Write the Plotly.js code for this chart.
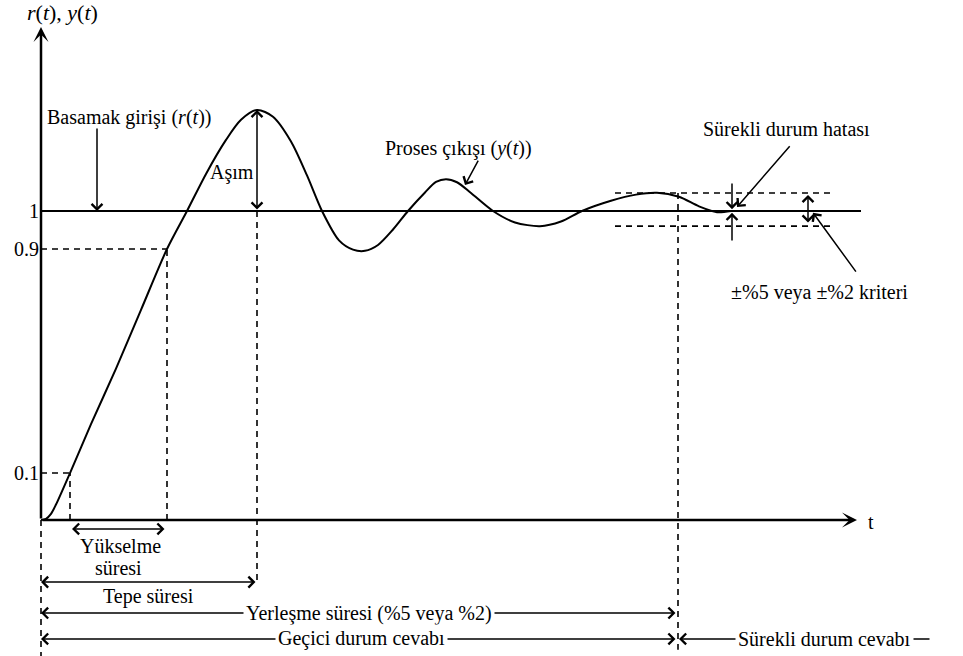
<!DOCTYPE html>
<html>
<head>
<meta charset="utf-8">
<script src="https://cdn.plot.ly/plotly-3.0.1.min.js"></script>
<style>html,body{margin:0;padding:0;background:#fff;}#chart{width:963px;height:656px;}</style>
</head>
<body>
<div id="chart"></div>
<script>
// Process output y(t) (time t, value y)
const tOut = [0, 0.05, 0.10, 0.15, 0.29, 0.50, 0.75, 1.00, 1.26, 1.46, 1.65, 1.85, 2.00, 2.16, 2.32, 2.50, 2.66, 2.81, 2.98, 3.12, 3.24, 3.37, 3.52, 3.67, 3.84, 3.95, 4.05, 4.16, 4.30, 4.52, 4.74, 4.99, 5.20, 5.41, 5.70, 5.95, 6.16, 6.38, 6.58, 6.76, 6.90];
const yOut = [0, 0.004, 0.02, 0.05, 0.152, 0.31, 0.49, 0.68, 0.877, 1.0, 1.12, 1.23, 1.295, 1.327, 1.305, 1.225, 1.115, 1.0, 0.905, 0.875, 0.871, 0.89, 0.94, 1.0, 1.06, 1.094, 1.103, 1.093, 1.058, 1.0, 0.963, 0.951, 0.966, 1.0, 1.033, 1.053, 1.059, 1.046, 1.015, 0.996, 1.0];
// Step input r(t)
const tRef = [0, 8.2];
const yRef = [1, 1];
// Y tick labels (schematic positions)
const yTickVals = [0.152, 0.877, 1];
const yTickText = ['0.1', '0.9', '1'];
// Key times and levels
const t10 = 0.29, t90 = 1.26, tPeak = 2.16, tSettle = 6.37;
const y10 = 0.152, y90 = 0.877, yPeak = 1.327;
const bandHi = 1.058, bandLo = 0.951, bandStart = 5.74, bandEnd = 7.92;
const tAxisEnd = 8.16, yAxisEnd = 1.5955;

const FONT = 'Liberation Serif, Times New Roman, serif';
const FS = 20;
const dashLine = {color: 'black', width: 1.6, dash: '6px,5px'};
function dline(x0, y0, x1, y1) {
  return {type: 'line', xref: 'x', yref: 'y', x0: x0, y0: y0, x1: x1, y1: y1, line: dashLine};
}
const shapes = [
  dline(0, y10, t10, y10),
  dline(0, y90, t90, y90),
  dline(t10, 0, t10, y10),
  dline(t90, 0, t90, y90),
  dline(tPeak, 1, tPeak, -0.204),
  dline(0, 0, 0, -0.44),
  dline(tSettle, bandHi, tSettle, -0.42),
  dline(bandStart, bandHi, bandEnd, bandHi),
  dline(bandStart, bandLo, bandEnd, bandLo)
];

function arrow(xh, yh, xt, yt, opts) {
  return Object.assign({
    x: xh, y: yh, ax: xt, ay: yt, xref: 'x', yref: 'y', axref: 'x', ayref: 'y',
    text: '', showarrow: true, arrowhead: 4, arrowsize: 1.4, arrowwidth: 1.5,
    arrowcolor: 'black', standoff: 0, startstandoff: 0
  }, opts || {});
}
function dbl(xh, yh, xt, yt) {
  return arrow(xh, yh, xt, yt, {arrowside: 'end+start', startarrowhead: 4, startarrowsize: 1.4});
}
function label(x, y, txt, opts) {
  return Object.assign({
    x: x, y: y, xref: 'x', yref: 'y', text: txt, showarrow: false,
    xanchor: 'center', yanchor: 'middle', font: {family: FONT, size: FS, color: 'black'}
  }, opts || {});
}

const annotations = [
  // axes
  arrow(0, yAxisEnd, 0, 0, {arrowhead: 3, arrowwidth: 2.5, arrowsize: 1}),
  arrow(tAxisEnd, 0, 0, 0, {arrowhead: 3, arrowwidth: 2.5, arrowsize: 1}),
  // pointers
  arrow(0.56, 1.0, 0.56, 1.272),
  dbl(tPeak, yPeak, tPeak, 1.0),
  arrow(4.24, 1.084, 4.38, 1.168),
  arrow(6.96, 1.013, 7.50, 1.214),
  arrow(6.91, 1.006, 6.91, 1.094),
  arrow(6.91, 0.994, 6.91, 0.900),
  dbl(7.67, 1.052, 7.67, 0.958),
  arrow(7.72, 0.994, 8.16, 0.799),
  // time dimension lines
  dbl(0.31, -0.029, 1.25, -0.029),
  dbl(0, -0.201, tPeak, -0.201),
  dbl(0, -0.301, tSettle - 0.01, -0.301),
  dbl(0, -0.385, tSettle - 0.01, -0.385),
  arrow(tSettle + 0.01, -0.385, 8.9, -0.385),
  // texts
  label(0.21, 1.641, '<i>r</i>(<i>t</i>), <i>y</i>(<i>t</i>)', {font: {family: FONT, size: 22, color: 'black'}}),
  label(0.04, 1.301, 'Basamak girişi (<i>r</i>(<i>t</i>))', {xanchor: 'left'}),
  label(1.91, 1.126, 'Aşım'),
  label(4.17, 1.201, 'Proses çıkışı (<i>y</i>(<i>t</i>))'),
  label(7.45, 1.265, 'Sürekli durum hatası'),
  label(7.78, 0.735, '±%5 veya ±%2 kriteri'),
  label(8.25, -0.006, 't', {xanchor: 'left'}),
  label(0.79, -0.084, 'Yükselme'),
  label(0.77, -0.155, 'süresi'),
  label(1.07, -0.249, 'Tepe süresi'),
  label(3.28, -0.301, 'Yerleşme süresi (%5 veya %2)', {bgcolor: 'white', borderpad: 2}),
  label(3.20, -0.385, 'Geçici durum cevabı', {bgcolor: 'white', borderpad: 2}),
  label(7.83, -0.385, 'Sürekli durum cevabı', {bgcolor: 'white', borderpad: 2})
];

const traces = [
  {x: tRef, y: yRef, type: 'scatter', mode: 'lines', line: {color: 'black', width: 2}, hoverinfo: 'skip'},
  {x: tOut, y: yOut, type: 'scatter', mode: 'lines', line: {color: 'black', width: 2, shape: 'spline', smoothing: 0.8}, hoverinfo: 'skip'}
];

const layout = {
  width: 963, height: 656,
  margin: {l: 0, r: 0, t: 0, b: 0, pad: 0},
  paper_bgcolor: 'white', plot_bgcolor: 'white',
  showlegend: false,
  xaxis: {range: [-0.41, 9.22], visible: false, fixedrange: true},
  yaxis: {
    range: [-0.4401, 1.6828], anchor: 'free', position: 41 / 963,
    tickvals: yTickVals, ticktext: yTickText, ticks: '', ticklen: 0,
    showgrid: false, zeroline: false, showline: false, fixedrange: true,
    tickfont: {family: FONT, size: FS, color: 'black'}, ticklabelstandoff: 2
  },
  shapes: shapes,
  annotations: annotations
};

Plotly.newPlot('chart', traces, layout, {displayModeBar: false, staticPlot: true});
</script>
</body>
</html>
